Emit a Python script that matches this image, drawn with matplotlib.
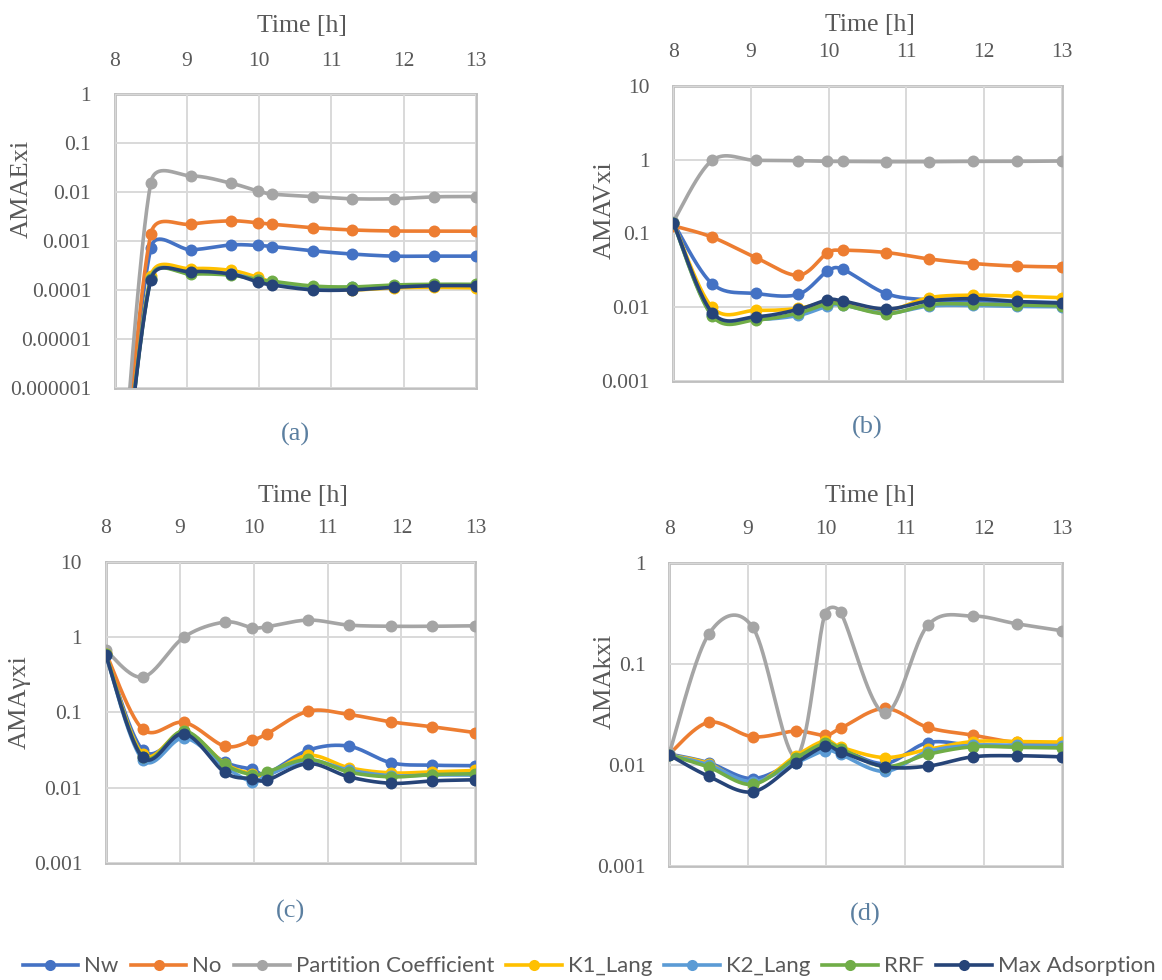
import numpy as np
import matplotlib
matplotlib.use("Agg")
import matplotlib.pyplot as plt
from matplotlib.ticker import FixedLocator, NullLocator
from matplotlib.lines import Line2D

# ---- data -------------------------------------------------------------
series_names = ["Nw", "No", "Partition Coefficient", "K1_Lang",
                "K2_Lang", "RRF", "Max Adsorption"]
series_colors = ["#4472C4", "#ED7D31", "#A5A5A5", "#FFC000",
                 "#5B9BD5", "#70AD47", "#264478"]

time_h = [8.0, 8.5, 9.06, 9.61, 9.98, 10.18, 10.74, 11.29, 11.86, 12.42, 13.0]

# (a) AMAExi
ama_e_nw = [1e-10, 7.1e-4, 6.6e-4, 8.3e-4, 8.1e-4, 7.7e-4, 6.3e-4, 5.4e-4, 4.9e-4, 4.9e-4, 4.9e-4]
ama_e_no = [1e-10, 1.39e-3, 2.2e-3, 2.58e-3, 2.34e-3, 2.2e-3, 1.87e-3, 1.68e-3, 1.6e-3, 1.6e-3, 1.58e-3]
ama_e_pc = [1e-10, 0.0156, 0.0214, 0.0152, 0.0105, 0.0091, 0.0081, 0.0073, 0.0073, 0.0080, 0.0081]
ama_e_k1 = [1e-10, 1.9e-4, 2.7e-4, 2.5e-4, 1.8e-4, 1.46e-4, 1.1e-4, 1.0e-4, 1.1e-4, 1.13e-4, 1.1e-4]
ama_e_k2 = [1e-10, 1.7e-4, 2.2e-4, 2.1e-4, 1.6e-4, 1.4e-4, 1.15e-4, 1.12e-4, 1.22e-4, 1.27e-4, 1.27e-4]
ama_e_rrf = [1e-10, 1.7e-4, 2.1e-4, 2.0e-4, 1.6e-4, 1.5e-4, 1.2e-4, 1.15e-4, 1.26e-4, 1.3e-4, 1.3e-4]
ama_e_max = [1e-10, 1.6e-4, 2.35e-4, 2.1e-4, 1.45e-4, 1.26e-4, 1.0e-4, 1.0e-4, 1.13e-4, 1.22e-4, 1.22e-4]

# (b) AMAVxi
ama_v_nw = [0.14, 0.0207, 0.0153, 0.0149, 0.0305, 0.0325, 0.0152, 0.0125, 0.0122, 0.0118, 0.0115]
ama_v_no = [0.127, 0.089, 0.047, 0.027, 0.054, 0.059, 0.055, 0.045, 0.039, 0.036, 0.035]
ama_v_pc = [0.144, 0.98, 0.98, 0.97, 0.95, 0.95, 0.94, 0.94, 0.95, 0.95, 0.96]
ama_v_k1 = [0.14, 0.0099, 0.0090, 0.0096, 0.012, 0.0118, 0.009, 0.0134, 0.0145, 0.014, 0.0134]
ama_v_k2 = [0.14, 0.0078, 0.0068, 0.0077, 0.0103, 0.0106, 0.0083, 0.0103, 0.0105, 0.0102, 0.0101]
ama_v_rrf = [0.14, 0.0076, 0.0067, 0.0083, 0.0111, 0.0108, 0.0081, 0.0108, 0.011, 0.0107, 0.0104]
ama_v_max = [0.14, 0.0084, 0.0074, 0.0093, 0.0125, 0.0121, 0.0094, 0.0121, 0.013, 0.0119, 0.0113]

# (c) AMAγxi
ama_g_nw = [0.6, 0.0316, 0.0475, 0.022, 0.0177, 0.0155, 0.0316, 0.0357, 0.0215, 0.02, 0.0197]
ama_g_no = [0.62, 0.06, 0.074, 0.0357, 0.043, 0.052, 0.104, 0.094, 0.075, 0.0645, 0.054]
ama_g_pc = [0.67, 0.294, 1.0, 1.58, 1.33, 1.37, 1.68, 1.44, 1.39, 1.39, 1.41]
ama_g_k1 = [0.6, 0.028, 0.056, 0.021, 0.0154, 0.015, 0.027, 0.0185, 0.0158, 0.0163, 0.017]
ama_g_k2 = [0.58, 0.0236, 0.046, 0.019, 0.0121, 0.0145, 0.023, 0.0172, 0.0145, 0.0148, 0.0148]
ama_g_rrf = [0.6, 0.026, 0.057, 0.0205, 0.015, 0.0162, 0.0238, 0.0162, 0.014, 0.015, 0.0154]
ama_g_max = [0.58, 0.0253, 0.0526, 0.016, 0.0133, 0.0126, 0.021, 0.014, 0.0115, 0.0124, 0.0128]

# (d) AMAkxi
ama_k_nw = [0.0128, 0.0105, 0.0073, 0.011, 0.0156, 0.0145, 0.0103, 0.0166, 0.0156, 0.0152, 0.0152]
ama_k_no = [0.0128, 0.0264, 0.019, 0.0216, 0.0197, 0.023, 0.0363, 0.0235, 0.0197, 0.0167, 0.0166]
ama_k_pc = [0.013, 0.196, 0.232, 0.012, 0.312, 0.324, 0.0324, 0.241, 0.298, 0.25, 0.213]
ama_k_k1 = [0.0125, 0.0103, 0.0065, 0.0123, 0.0173, 0.015, 0.0118, 0.0142, 0.017, 0.017, 0.0168]
ama_k_k2 = [0.0125, 0.01, 0.0068, 0.0104, 0.0138, 0.0127, 0.0086, 0.0135, 0.0156, 0.0156, 0.0155]
ama_k_rrf = [0.0125, 0.0095, 0.0064, 0.0117, 0.0163, 0.0145, 0.0096, 0.0127, 0.0151, 0.0149, 0.0147]
ama_k_max = [0.0125, 0.0077, 0.0054, 0.0104, 0.0152, 0.0135, 0.0096, 0.0097, 0.012, 0.0123, 0.012]

x_ticks = [8, 9, 10, 11, 12, 13]
x_tick_labels = ["8", "9", "10", "11", "12", "13"]

y_ticks_a = [1e-6, 1e-5, 1e-4, 1e-3, 1e-2, 1e-1, 1]
y_labels_a = ["0.000001", "0.00001", "0.0001", "0.001", "0.01", "0.1", "1"]
y_ticks_b = [1e-3, 1e-2, 1e-1, 1, 10]
y_labels_b = ["0.001", "0.01", "0.1", "1", "10"]
y_ticks_d = [1e-3, 1e-2, 1e-1, 1]
y_labels_d = ["0.001", "0.01", "0.1", "1"]

panels = [
    dict(letter="(a)", ylabel="AMAExi",
         series=[ama_e_nw, ama_e_no, ama_e_pc, ama_e_k1, ama_e_k2, ama_e_rrf, ama_e_max],
         yticks=y_ticks_a, ylabels=y_labels_a,
         rect=[0.0987, 0.6044, 0.3109, 0.2994],
         ylab_pos=(-0.257, 0.677), xlab_pos=(0.518, 1.232)),
    dict(letter="(b)", ylabel="AMAVxi",
         series=[ama_v_nw, ama_v_no, ama_v_pc, ama_v_k1, ama_v_k2, ama_v_rrf, ama_v_max],
         yticks=y_ticks_b, ylabels=y_labels_b,
         rect=[0.5794, 0.6115, 0.3345, 0.3007],
         ylab_pos=(-0.176, 0.579), xlab_pos=(0.506, 1.208)),
    dict(letter="(c)", ylabel="AMAγxi",
         series=[ama_g_nw, ama_g_no, ama_g_pc, ama_g_k1, ama_g_k2, ama_g_rrf, ama_g_max],
         yticks=y_ticks_b, ylabels=y_labels_b,
         rect=[0.0910, 0.1191, 0.3181, 0.3078],
         ylab_pos=(-0.232, 0.536), xlab_pos=(0.534, 1.217)),
    dict(letter="(d)", ylabel="AMAkxi",
         series=[ama_k_nw, ama_k_no, ama_k_pc, ama_k_k1, ama_k_k2, ama_k_rrf, ama_k_max],
         yticks=y_ticks_d, ylabels=y_labels_d,
         rect=[0.5760, 0.1166, 0.3380, 0.3089],
         ylab_pos=(-0.164, 0.61), xlab_pos=(0.511, 1.220)),
]


def smooth_curve(x, y, sx, sy, n=40, arm_limit=0.55):
    """Bezier smoothing of a log-scale series.

    Control arms follow the Catmull-Rom tangent (tension 1/6), computed in
    display proportions (sx px per x unit, sy px per decade), and are capped
    at a fraction of the segment they belong to.
    """
    px = np.asarray(x, float) * sx
    py = np.log10(np.asarray(y, float)) * sy
    pts = np.column_stack([px, py])
    ext = np.vstack([pts[:1], pts, pts[-1:]])
    s = np.linspace(0, 1, n)[:, None]
    out = []
    for i in range(len(pts) - 1):
        p_prev, p0, p3, p_next = ext[i], ext[i + 1], ext[i + 2], ext[i + 3]
        seg = np.hypot(*(p3 - p0))
        a1 = (p3 - p_prev) / 6.0
        a2 = (p_next - p0) / 6.0
        for a in (a1, a2):
            ln = np.hypot(*a)
            if ln > arm_limit * seg and ln > 0:
                a *= arm_limit * seg / ln
        c1 = p0 + a1
        c2 = p3 - a2
        b = (1 - s) ** 3 * p0 + 3 * (1 - s) ** 2 * s * c1 \
            + 3 * (1 - s) * s ** 2 * c2 + s ** 3 * p3
        out.append(b)
    out = np.vstack(out)
    return out[:, 0] / sx, 10 ** (out[:, 1] / sy)


plt.rcParams["font.family"] = "Liberation Serif"
text_gray = "#595959"
grid_gray = "#D9D9D9"
frame_gray = "#BFBFBF"

FIG_W, FIG_H = 1162, 980
fig = plt.figure(figsize=(FIG_W / 100, FIG_H / 100), dpi=100)

for p in panels:
    ax = fig.add_axes(p["rect"])
    ax.set_yscale("log")
    ax.set_xlim(8, 13)
    ax.set_ylim(p["yticks"][0], p["yticks"][-1])
    ax.xaxis.set_major_locator(FixedLocator(x_ticks))
    ax.set_xticklabels(x_tick_labels)
    ax.yaxis.set_major_locator(FixedLocator(p["yticks"]))
    ax.set_yticklabels(p["ylabels"])
    ax.yaxis.set_minor_locator(NullLocator())
    ax.xaxis.set_minor_locator(NullLocator())
    ax.xaxis.tick_top()
    ax.xaxis.set_label_position("top")
    ax.tick_params(axis="both", length=0, labelsize=15.5, labelcolor=text_gray)
    ax.tick_params(axis="x", pad=17)
    ax.tick_params(axis="y", pad=17)
    ax.grid(True, color=grid_gray, linewidth=1.4)
    ax.set_axisbelow(True)
    for sp in ax.spines.values():
        sp.set_color(frame_gray)
        sp.set_linewidth(2.0)
        sp.set_zorder(0.5)

    ax.set_xlabel("Time [h]", fontsize=18.5, color=text_gray)
    ax.xaxis.set_label_coords(*p["xlab_pos"])
    ax.xaxis.label.set_verticalalignment("center")
    ax.set_ylabel(p["ylabel"], fontsize=19, color=text_gray)
    ax.yaxis.set_label_coords(*p["ylab_pos"])
    ax.yaxis.label.set_verticalalignment("center")

    # display proportions of the panel
    w_px = p["rect"][2] * FIG_W
    h_px = p["rect"][3] * FIG_H
    decades = np.log10(p["yticks"][-1]) - np.log10(p["yticks"][0])
    sx = w_px / 5.0
    sy = h_px / decades

    for k, (vals, col) in enumerate(zip(p["series"], series_colors)):
        cx, cy = smooth_curve(time_h, vals, sx, sy)
        ax.plot(cx, cy, color=col, linewidth=2.6, solid_capstyle="round",
                zorder=2 + k)
        ax.plot(time_h, vals, linestyle="none", marker="o", markersize=8.6,
                color=col, markeredgewidth=0, zorder=2 + k)

    ax.text(0.5, -0.16, p["letter"], transform=ax.transAxes, ha="center",
            va="center", fontsize=19, color="#5B7FA0")

handles = [Line2D([0], [0], color=c, linewidth=2.6, marker="o", markersize=8,
                  markeredgewidth=0) for c in series_colors]
fig.legend(handles, series_names, loc="center", bbox_to_anchor=(0.507, 0.014),
           ncol=7, frameon=False, handlelength=2.5, handletextpad=0.27,
           columnspacing=0.55, borderaxespad=0,
           prop={"family": "Lato", "size": 16},
           labelcolor=text_gray)

fig.savefig("out.png", dpi=100, facecolor="white")
